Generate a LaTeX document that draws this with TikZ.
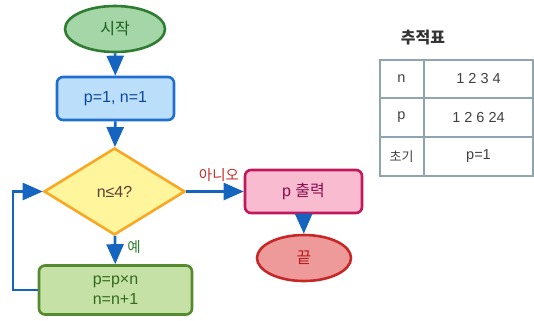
\documentclass[tikz,border=0pt]{standalone}
\usepackage{fontspec}
\setmainfont{Liberation Sans}
\newfontfamily\kr{Noto Sans CJK KR}
\usetikzlibrary{shapes.geometric,arrows.meta}
\definecolor{arrowblue}{HTML}{1565C0}
\definecolor{gridgray}{HTML}{90A4AE}
\definecolor{startfill}{HTML}{A5D6A7}
\definecolor{startline}{HTML}{2E7D32}
\definecolor{starttext}{HTML}{1B5E20}
\definecolor{initfill}{HTML}{BBDEFB}
\definecolor{initline}{HTML}{1E6FCF}
\definecolor{inittext}{HTML}{0D47A1}
\definecolor{condfill}{HTML}{FFF59D}
\definecolor{condline}{HTML}{F9A825}
\definecolor{condtext}{HTML}{5D4037}
\definecolor{updfill}{HTML}{C5E1A5}
\definecolor{updline}{HTML}{558B2F}
\definecolor{updtext}{HTML}{33691E}
\definecolor{outfill}{HTML}{F8BBD0}
\definecolor{outline}{HTML}{C2185B}
\definecolor{outtext}{HTML}{880E4F}
\definecolor{stopfill}{HTML}{EF9A9A}
\definecolor{stopline}{HTML}{C62828}
\definecolor{stoptext}{HTML}{B71C1C}
\tikzset{
  base/.style={draw, line width=2.6bp, inner sep=0pt, font=\fontsize{16bp}{20bp}\selectfont},
  terminal/.style={base, ellipse},
  procbox/.style={base, rectangle, rounded corners=6bp},
  decide/.style={base, diamond},
  flow/.style={draw=arrowblue, line width=2.6bp, -{Triangle[length=20bp,width=17bp]}},
  lbl/.style={font=\kr\fontsize{14.5bp}{16bp}\selectfont, inner sep=0pt},
  cell/.style={font=\fontsize{14.5bp}{16bp}\selectfont, text=black!75, inner sep=0pt}
}
\begin{document}
\begin{tikzpicture}[x=1bp,y=-1bp]
\useasboundingbox (0,0) rectangle (534,320);

% flowchart nodes
\node[terminal, fill=startfill, draw=startline, text=starttext,
      minimum width=100bp, minimum height=46bp] (start) at (115,29) {\kr 시작};
\node[procbox, fill=initfill, draw=initline, text=inittext,
      minimum width=117bp, minimum height=43bp] (init) at (115.5,98.5) {p=1, n=1};
\node[decide, fill=condfill, draw=condline, text=condtext,
      minimum width=141bp, minimum height=87bp] (cond) at (114.5,191.5) {n≤4?};
\node[procbox, fill=updfill, draw=updline, text=updtext, align=center,
      minimum width=153bp, minimum height=49bp] (update) at (115.5,290) {p=p×n\\n=n+1};
\node[procbox, fill=outfill, draw=outline, text=outtext,
      minimum width=117bp, minimum height=43bp] (out) at (303.5,191.5) {p {\kr 출력}};
\node[terminal, fill=stopfill, draw=stopline, text=stoptext,
      minimum width=94bp, minimum height=46bp] (stop) at (304,258) {\kr 끝};

% connectors
\draw[flow] (start) -- (init);
\draw[flow] (init) -- (cond);
\draw[flow] (cond) -- (update);
\draw[flow] (cond) -- (out);
\draw[flow] (out) -- (stop);
\coordinate (back) at (13,290);
\draw[flow] (update.west) -- (back) |- (cond.west);

% branch labels
\node[lbl, text=startline] (yes) at (134,247) {예};
\node[lbl, text=stopline] (no) at (219,175) {아니오};

% trace table
\node[font=\kr\bfseries\fontsize{16bp}{18bp}\selectfont, text=black!80] (ttitle) at (423,38) {추적표};
\draw[gridgray, line width=2bp] (380,59.5) rectangle (532.5,176);
\draw[gridgray, line width=2bp] (424,59.5) -- (424,176)
      (380,98) -- (532.5,98) (380,137) -- (532.5,137);
\node[cell] (hn) at (401.5,78.5) {n};
\node[cell] (vn) at (478.5,78.5) {1 2 3 4};
\node[cell] (hp) at (401.5,117.5) {p};
\node[cell] (vp) at (478.5,117.5) {1 2 6 24};
\node[cell, font=\kr\fontsize{13bp}{15bp}\selectfont] (hi) at (401.5,156.5) {초기};
\node[cell] (vi) at (478.5,156.5) {p=1};
\end{tikzpicture}
\end{document}
